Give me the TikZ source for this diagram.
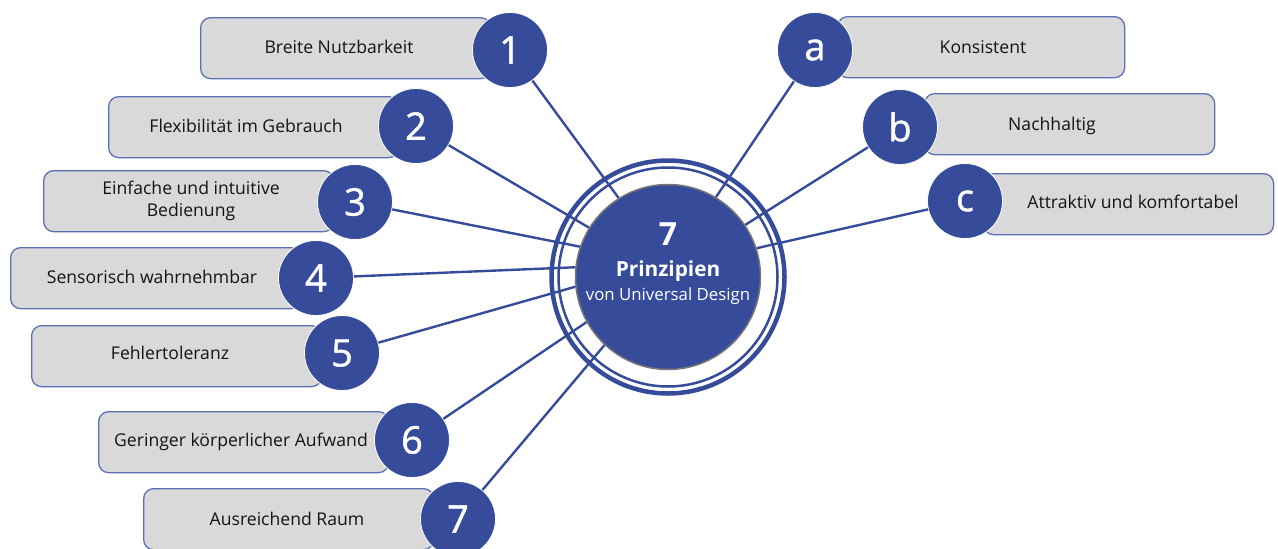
\documentclass[tikz,border=0pt]{standalone}
\usepackage{fontspec}
\setmainfont{Open Sans}
\newfontfamily\badgefont[FakeBold=1.2]{Open Sans}
\definecolor{ud}{RGB}{54,76,155}
\definecolor{boxfill}{RGB}{217,217,217}
\definecolor{boxline}{RGB}{92,112,182}
\definecolor{rimgray}{RGB}{120,120,120}
\begin{document}
\begin{tikzpicture}[x=1pt,y=-1pt,
  box/.style={draw=boxline, line width=1.3pt, fill=boxfill, rounded corners=10pt,
              minimum width=290pt, minimum height=61pt, inner sep=0pt, anchor=north west},
  badge/.style={circle, fill=ud, draw=white, line width=0.8pt, minimum size=75pt,
                inner sep=0pt, text=white, font=\badgefont\fontsize{38}{38}\selectfont},
  lbl/.style={font=\fontsize{17.6}{22}\selectfont, text=black!92, align=center, inner sep=0pt},
  conn/.style={draw=ud, line width=2.4pt},
  ring/.style={draw=ud}]
\useasboundingbox (0,0) rectangle (1278,549);
% boxes
\node[box] (r1) at (200,17) {};
\node[box] (r2) at (108,96) {};
\node[box] (r3) at (43,170) {};
\node[box] (r4) at (10,247) {};
\node[box] (r5) at (31,325) {};
\node[box] (r6) at (98,411) {};
\node[box] (r7) at (143,488) {};
\node[box, minimum width=287pt] (ra) at (837,16) {};
\node[box] (rb) at (924,93) {};
\node[box] (rc) at (983,173) {};
% labels
\node[lbl] (l1) at (339,47) {Breite Nutzbarkeit};
\node[lbl] (l2) at (246,126) {Flexibilität im Gebrauch};
\node[lbl] (l3) at (191,201) {Einfache und intuitive\\Bedienung};
\node[lbl] (l4) at (152,277) {Sensorisch wahrnehmbar};
\node[lbl] (l5) at (170,353) {Fehlertoleranz};
\node[lbl] (l6) at (241,442) {Geringer körperlicher Aufwand};
\node[lbl] (l7) at (287,519) {Ausreichend Raum};
\node[lbl] (la) at (983,47) {Konsistent};
\node[lbl] (lb) at (1052,126) {Nachhaltig};
\node[lbl] (lc) at (1133,202) {Attraktiv und komfortabel};
% rings
\coordinate (O) at (668,277);
\draw[ring, line width=4.5pt] (O) circle (116.5);
\draw[ring, line width=2.5pt] (O) circle (109.5);
% centre
\node[circle, fill=ud, draw=rimgray, line width=1.5pt, minimum size=185pt, inner sep=0pt] (C) at (O) {};
\node[text=white, font=\fontsize{32}{32}\selectfont\bfseries, inner sep=0pt] (c7) at (668,234) {7};
\node[text=white, font=\fontsize{20.8}{22}\selectfont\bfseries, inner sep=0pt] (cp) at (668,271) {Prinzipien};
\node[text=white, font=\fontsize{16.8}{18}\selectfont, inner sep=0pt] (cv) at (668,296) {von Universal Design};
% badges
\node[badge] (b1) at (510,50) {1};
\node[badge] (b2) at (416,126) {2};
\node[badge] (b3) at (355,202) {3};
\node[badge] (b4) at (316,278) {4};
\node[badge] (b5) at (342,353) {5};
\node[badge] (b6) at (412,440) {6};
\node[badge] (b7) at (458,519) {7};
\node[badge] (ba) at (815,50) {a};
\node[badge] (bb) at (900,127) {b};
\node[badge] (bc) at (965,201) {c};
% connectors
\draw[conn] (b1) -- (C.122);
\draw[conn] (b2) -- (C.148);
\draw[conn] (b3) -- (C.161);
\draw[conn] (b4) -- (C.174);
\draw[conn] (b5) -- (C.186);
\draw[conn] (b6) -- (C.209);
\draw[conn] (b7) -- (C.227);
\draw[conn] (ba) -- (C.59);
\draw[conn] (bb) -- (C.34);
\draw[conn] (bc) -- (C.18);
\end{tikzpicture}
\end{document}
